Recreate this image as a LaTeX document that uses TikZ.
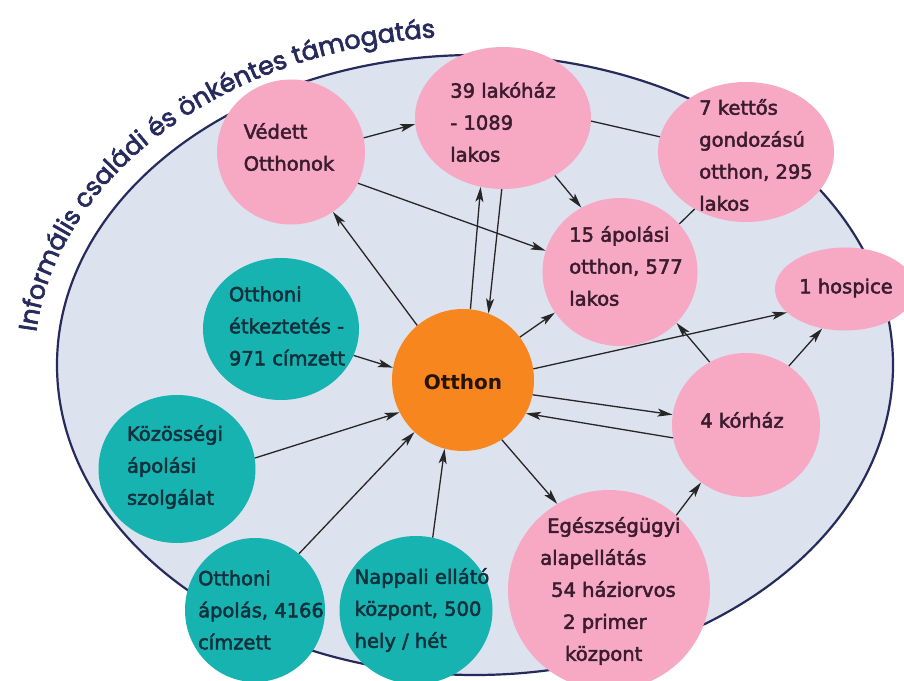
\documentclass[tikz,border=0pt]{standalone}
\usepackage{fontspec}
\usetikzlibrary{shapes.geometric,arrows.meta,decorations.text}
\newfontfamily\nodefont{DejaVu Sans}[FakeBold=2.4]
\newfontfamily\centerfont{DejaVu Sans}
\newfontfamily\curvefont{Poppins}[FakeBold=2.5]
\definecolor{bgfill}{HTML}{DCE2EE}
\definecolor{navy}{HTML}{262B5C}
\definecolor{pinkc}{HTML}{F7A8C3}
\definecolor{tealc}{HTML}{17B3B0}
\definecolor{orangec}{HTML}{F8861F}
\definecolor{pinktxt}{HTML}{3A1C2C}
\definecolor{tealtxt}{HTML}{10303C}
\tikzset{
  blob/.style={ellipse, inner sep=0pt, draw=none},
  pinkb/.style={blob, fill=pinkc},
  tealb/.style={blob, fill=tealc},
  txt/.style={font=\nodefont\fontsize{19.5}{32}\selectfont, align=left, inner sep=0pt},
  ptxt/.style={txt, text=pinktxt},
  ttxt/.style={txt, text=tealtxt},
  arr/.style={draw=black!85, line width=1.3pt, -{Stealth[length=15pt,width=8pt,inset=3.5pt]}},
  link/.style={draw=black!85, line width=1.3pt}
}
\begin{document}
\begin{tikzpicture}[x=1pt,y=1pt]
\useasboundingbox (0,0) rectangle (904,680);
\fill[white] (0,0) rectangle (904,680);
\node[ellipse, inner sep=0pt, minimum width=836pt, minimum height=620pt, draw=navy, line width=2.2pt, fill=bgfill] (field) at (475,315) {};
\path[decorate, decoration={text along path, text align=center,
  text={|\curvefont\fontsize{25.5}{30}\selectfont\color{navy}|Informális családi és önkéntes támogatás}}]
  (475,315) ++(176.5:441pt and 329pt) arc[start angle=176.5, end angle=93.5, x radius=441pt, y radius=329pt];

\node[pinkb, minimum width=148pt, minimum height=145pt] (vedett) at (291,528) {};
\node[pinkb, minimum width=176pt, minimum height=142pt] (lako) at (503,562) {};
\node[pinkb, minimum width=176pt, minimum height=140pt] (kettos) at (746,528) {};
\node[pinkb, minimum width=155pt, minimum height=148pt] (apolasi) at (620,408) {};
\node[pinkb, minimum width=140pt, minimum height=83pt] (hospice) at (845,391) {};
\node[pinkb, minimum width=148pt, minimum height=144pt] (korhaz) at (746,255) {};
\node[pinkb, minimum width=202pt, minimum height=200pt] (eges) at (609,90) {};
\node[circle, fill=orangec, inner sep=0pt, minimum size=142pt] (otthon) at (463,300) {};
\node[tealb, minimum width=156pt, minimum height=142pt] (etkez) at (281,351) {};
\node[tealb, minimum width=157pt, minimum height=148pt] (kozos) at (177,211) {};
\node[tealb, minimum width=140pt, minimum height=144pt] (apolas) at (255,70) {};
\node[tealb, minimum width=153pt, minimum height=148pt] (nappali) at (416,70) {};

\node[ptxt] (tvedett) at (289,533) {Védett\\Otthonok};
\node[ptxt] (tlako) at (503,558) {39 lakóház\\- 1089\\lakos};
\node[ptxt] (tkettos) at (756,525) {7 kettős\\gondozású\\otthon, 295\\lakos};
\node[ptxt] (tapolasi) at (626,414) {15 ápolási\\otthon, 577\\lakos};
\node[ptxt] (thospice) at (846,392) {1 hospice};
\node[ptxt] (tkorhaz) at (742,260) {4 kórház};
\node[ptxt, anchor=west] (teges) at (540,89) {\hspace*{7pt}Egészségügyi\\alapellátás\\\hspace*{11pt}54 háziorvos\\\hspace*{23pt}2 primer\\\hspace*{25pt}központ};
\node[font=\centerfont\bfseries\fontsize{20}{24}\selectfont, text=black!85!orangec, inner sep=0pt] (totthon) at (463,298) {Otthon};
\node[ttxt] (tetkez) at (287,354) {Otthoni\\étkeztetés -\\971 címzett};
\node[ttxt] (tkozos) at (175,213) {Közösségi\\ápolási\\szolgálat};
\node[ttxt] (tapolas) at (261,70) {Otthoni\\ápolás, 4166\\címzett};
\node[ttxt] (tnappali) at (422,70) {Nappali ellátó\\központ, 500\\hely / hét};

\draw[arr] (otthon.130) -- (vedett.-55);
\draw[arr] (otthon.84) -- (lako.-108);
\draw[arr] (lako.-91) -- (otthon.69);
\draw[arr] (otthon.37) -- (apolasi.-148);
\draw[arr] (otthon.9.5) -- (hospice.-158);
\draw[arr] (otthon.-12) -- (korhaz.172);
\draw[arr] (korhaz.190) -- (otthon.-28);
\draw[arr] (otthon.-57) -- (eges.121.5);
\draw[arr] (etkez.-20) -- (otthon.170);
\draw[arr] (kozos.8) -- (otthon.207);
\draw[arr] (apolas.52) -- (otthon.227);
\draw[arr] (nappali.77) -- (otthon.255);
\draw[arr] (vedett.11) -- (lako.184);
\draw[arr] (vedett.-25) -- (apolasi.164);
\draw[arr] (lako.-48) -- (apolasi.121);
\draw[link] (lako.-2.5) -- (kettos.170);
\draw[link] (apolasi.39) -- (kettos.228);
\draw[arr] (korhaz.120) -- (apolasi.-42);
\draw[arr] (korhaz.54) -- (hospice.-120);
\draw[arr] (eges.48.6) -- (korhaz.-128);
\end{tikzpicture}
\end{document}
